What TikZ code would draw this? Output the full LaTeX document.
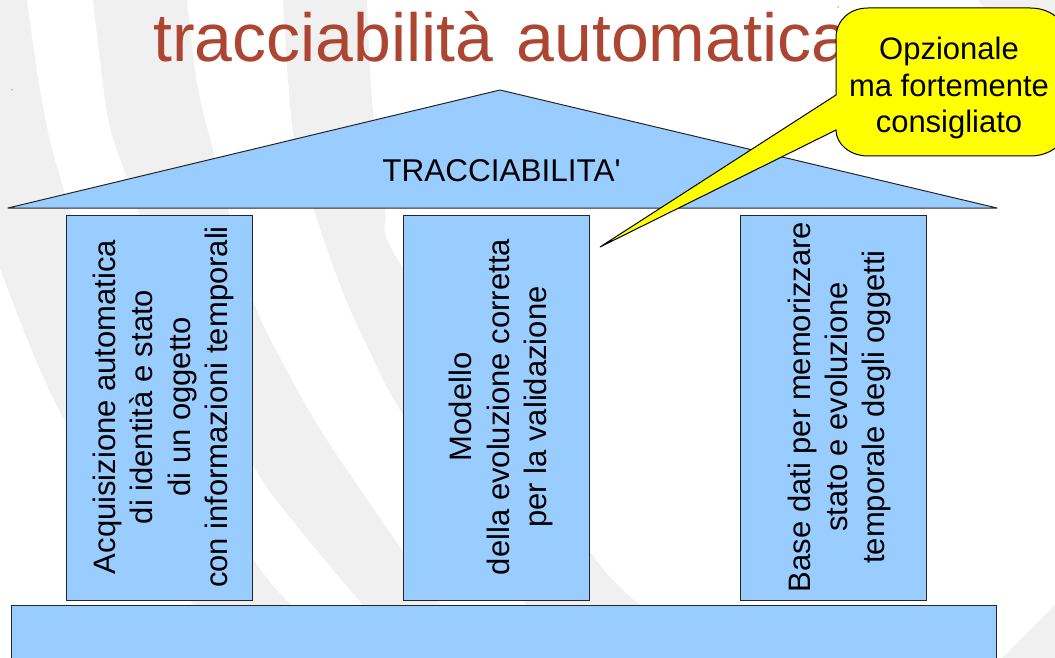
\documentclass[tikz,border=0pt]{standalone}
\usepackage{fontspec}
\setmainfont{Liberation Sans}
\newfontfamily\plainfont{Liberation Sans}
\definecolor{bandgrey}{HTML}{F0F0F0}
\definecolor{pillar}{HTML}{99CCFF}
\definecolor{titlered}{HTML}{AC4632}
\definecolor{noteyellow}{HTML}{FFFF00}
\tikzset{
  band/.style={fill=bandgrey,draw=none},
  part/.style={fill=pillar,draw=black!85,line width=1pt},
  column/.style={part,minimum width=186pt,minimum height=385pt,inner sep=0pt},
  columntext/.style={rotate=90,inner sep=0pt,align=center,font=\fontsize{31}{37.3}\selectfont},
  notebody/.style={fill=noteyellow,draw=black,line width=1pt}
}
\begin{document}
\begin{tikzpicture}[x=1pt,y=-1pt]
\useasboundingbox (0,0) rectangle (1055,658);
\clip (0,0) rectangle (1055,658);
% background bands
\fill[band] plot[smooth] coordinates {(27,0) (40,90) (58,170) (110,320) (252,557) (298,610)}
  -- (197,610) -- plot[smooth] coordinates {(197,610) (65,421) (0,268)} -- (0,0) -- cycle;
\fill[band] plot[smooth] coordinates {(93,0) (107,113) (123,167) (175,310) (252,463) (292,520) (367,610)}
  -- plot[smooth] coordinates {(445,610) (402,550) (325,437) (285,367) (252,297) (213,150) (197,83) (187,0)} -- cycle;
\fill[band] plot[smooth] coordinates {(283,0) (293,133) (314,210) (342,290) (369,350) (402,413) (530,610)}
  -- plot[smooth] coordinates {(650,610) (590,552) (402,267) (385,210) (372,100) (367,0)} -- cycle;
\fill[band] (978,0) -- (1055,0) -- (1055,15) -- (1035,8) -- (985,8) -- cycle;
\fill[band] (1002,658) -- (1055,605) -- (1055,658) -- cycle;
% stray marks
\fill[black] (12,90) circle (0.5);
\fill[black] (838,7) circle (0.5);
% title
\node[anchor=base west,inner sep=0pt,text=titlered,font=\fontsize{68}{78}\selectfont] (title) at (153,62) {tracciabilità\hspace{4.5pt} automatica};
% roof
\draw[part,line join=round] (8,208) -- (500,90) -- (997,208) -- cycle;
\node[font=\fontsize{31.5}{36.8}\selectfont\plainfont] (rooflabel) at (501.5,171) {TRACCIABILITA'};
% columns
\node[column] (col1) at (159,407.5) {};
\node[column] (col2) at (496.5,407.5) {};
\node[column] (col3) at (833.5,407.5) {};
\node[columntext] (text1) at (163.5,407) {Acquisizione automatica\\di identità e stato\\di un oggetto\\con informazioni temporali};
\node[columntext] (text2) at (501,407) {Modello\\della evoluzione corretta\\per la validazione};
\node[columntext] (text3) at (839.5,407) {Base dati per memorizzare\\stato e evoluzione\\temporale degli oggetti};
% base
\draw[part] (11,605.5) rectangle (996,670);
% callout
\draw[notebody] (600,247) -- (836,95) -- (836,38) .. controls (836,20) and (850,8) .. (868,8)
  -- (1030,8) .. controls (1050,8) and (1066,20) .. (1066,38) -- (1066,126) .. controls (1066,144) and (1050,156) .. (1030,156)
  -- (868,156) .. controls (850,156) and (836,144) .. (836,130) -- cycle;
\node[align=center,font=\fontsize{31}{36.8}\selectfont] (note) at (949,88) {Opzionale\\ma fortemente\\consigliato};
\end{tikzpicture}
\end{document}
